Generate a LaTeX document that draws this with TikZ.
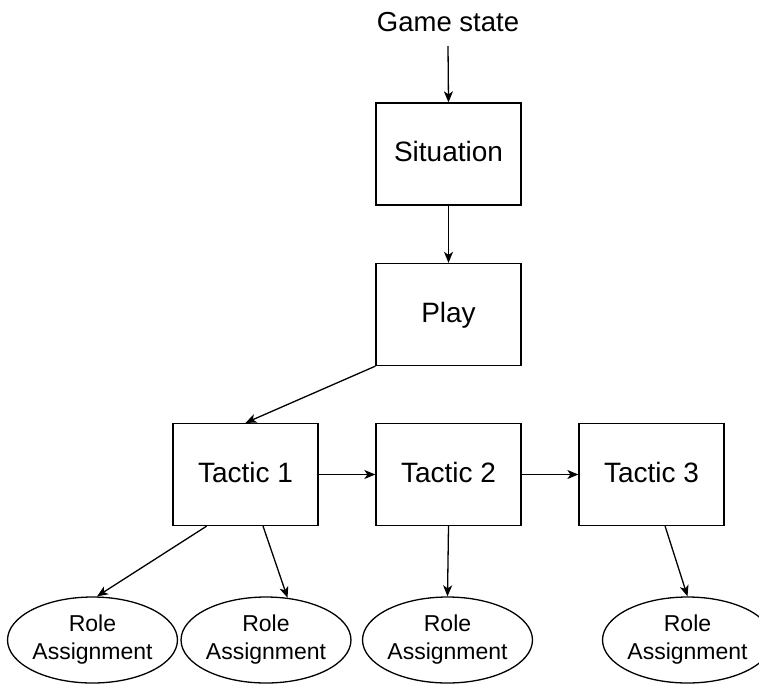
\documentclass[tikz,border=0pt]{standalone}
\usepackage{fontspec}
\setmainfont{Liberation Sans}
\usetikzlibrary{shapes.geometric,arrows.meta,calc}
\begin{document}
\begin{tikzpicture}[x=1pt,y=-1pt,
  line width=1.3pt,
  box/.style={draw,rectangle,minimum width=145pt,minimum height=102pt,inner sep=0pt,
    font=\fontsize{28}{33}\selectfont,text height=20pt,text depth=5pt},
  role/.style={draw,ellipse,minimum width=161pt,minimum height=86pt,inner sep=0pt,
    align=center,font=\fontsize{23}{28}\selectfont},
  link/.style={-{Stealth[length=11pt,width=9pt,inset=3pt]}}]
\useasboundingbox (0,0) rectangle (759,683);

\node[font=\fontsize{27.5}{32}\selectfont] (gs) at (448,22) {Game state};
\coordinate (gsout) at (448,46);
\node[box] (sit) at (448.5,154) {Situation};
\node[box] (play) at (448.5,314.5) {Play};
\node[box] (t1) at (245.5,474.5) {Tactic 1};
\node[box] (t2) at (448.5,474.5) {Tactic 2};
\node[box] (t3) at (651.5,474.5) {Tactic 3};

\node[role] (r1) at (92.5,640) {Role\\Assignment};
\node[role] (r2) at (266,640) {Role\\Assignment};
\node[role] (r3) at (447.5,640) {Role\\Assignment};
\node[role] (r4) at (687.5,640) {Role\\Assignment};

\draw[link] (gsout) -- (sit.north);
\draw[link] (sit.south) -- (play.north);
\draw[link] (play.south west) -- (t1.north);
\draw[link] (t1.east) -- (t2.west);
\draw[link] (t2.east) -- (t3.west);
\draw[link] ($(t1.south west)!0.234!(t1.south east)$) -- ($(r1.north)+(4.5,0)$);
\draw[link] ($(t1.south west)!0.62!(t1.south east)$) -- (r2.63);
\draw[link] (t2.south) -- (r3.north);
\draw[link] ($(t3.south west)!0.593!(t3.south east)$) -- (r4.north);
\end{tikzpicture}
\end{document}
